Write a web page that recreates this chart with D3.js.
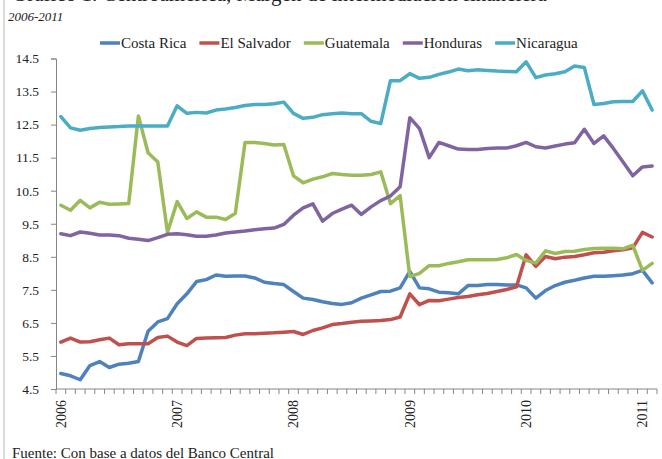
<!DOCTYPE html>
<html><head><meta charset="utf-8">
<script src="https://cdn.jsdelivr.net/npm/d3@7"></script>
<style>body{margin:0;background:#fff;} svg{display:block;}</style>
</head><body><svg id="c" width="662" height="459"></svg>
<script>
const years = ["2006","2007","2008","2009","2010","2011"];
const months = ["01","02","03","04","05","06","07","08","09","10","11","12"];
const seriesNames = ["Costa Rica","El Salvador","Guatemala","Honduras","Nicaragua"];
const seriesColors = ["#4F81BD","#C0504D","#9BBB59","#8064A2","#4BACC6"];
const yTicks = [4.5,5.5,6.5,7.5,8.5,9.5,10.5,11.5,12.5,13.5,14.5];
const titleText = "Gráfico 1. Centroamérica, Margen de intermediación financiera";
const subtitleText = "2006-2011";
const sourceText = "Fuente: Con base a datos del Banco Central";

const costaRica = [4.97,4.90,4.78,5.21,5.33,5.15,5.25,5.28,5.33,6.25,6.53,6.63,
  7.08,7.38,7.75,7.81,7.95,7.91,7.92,7.92,7.86,7.73,7.69,7.66,
  7.45,7.25,7.21,7.14,7.09,7.06,7.11,7.25,7.35,7.45,7.46,7.56,
  8.06,7.56,7.53,7.43,7.41,7.38,7.63,7.63,7.66,7.66,7.65,7.65,
  7.56,7.25,7.48,7.63,7.73,7.79,7.86,7.91,7.91,7.93,7.95,7.99,
  8.09,7.71];
const elSalvador = [5.92,6.04,5.92,5.93,5.99,6.04,5.84,5.87,5.87,5.87,6.06,6.10,
  5.92,5.81,6.03,6.04,6.05,6.06,6.13,6.17,6.17,6.19,6.20,6.22,
  6.24,6.15,6.27,6.35,6.45,6.48,6.52,6.55,6.56,6.57,6.60,6.68,
  7.38,7.05,7.18,7.17,7.22,7.27,7.30,7.35,7.39,7.45,7.51,7.59,
  8.56,8.21,8.51,8.44,8.49,8.51,8.56,8.62,8.64,8.68,8.71,8.77,
  9.24,9.10];
const guatemala = [10.06,9.91,10.21,9.98,10.15,10.09,10.10,10.11,12.76,11.65,11.37,9.24,
  10.17,9.66,9.86,9.70,9.70,9.63,9.82,11.96,11.96,11.93,11.88,11.90,
  10.95,10.74,10.85,10.92,11.02,10.99,10.97,10.97,10.99,11.07,10.11,10.35,
  7.90,8.00,8.23,8.23,8.30,8.35,8.41,8.41,8.41,8.42,8.47,8.57,
  8.39,8.31,8.68,8.60,8.66,8.67,8.72,8.75,8.76,8.76,8.74,8.85,
  8.09,8.30];
const honduras = [9.20,9.14,9.25,9.21,9.16,9.16,9.14,9.06,9.03,8.99,9.08,9.18,
  9.20,9.17,9.12,9.12,9.16,9.22,9.25,9.28,9.32,9.35,9.37,9.48,
  9.76,9.98,10.10,9.58,9.81,9.94,10.06,9.78,10.01,10.20,10.34,10.62,
  12.71,12.38,11.50,11.96,11.86,11.76,11.75,11.75,11.78,11.79,11.79,11.86,
  11.96,11.83,11.79,11.85,11.91,11.95,12.36,11.93,12.16,11.78,11.37,10.95,
  11.22,11.25];
const nicaragua = [12.74,12.40,12.33,12.38,12.41,12.43,12.44,12.46,12.46,12.46,12.46,12.46,
  13.07,12.84,12.87,12.85,12.94,12.97,13.02,13.08,13.11,13.11,13.13,13.18,
  12.84,12.69,12.72,12.80,12.83,12.85,12.83,12.83,12.60,12.53,13.83,13.83,
  14.04,13.90,13.93,14.02,14.09,14.18,14.13,14.16,14.14,14.12,14.11,14.10,
  14.40,13.92,14.00,14.04,14.10,14.27,14.23,13.11,13.14,13.19,13.20,13.20,
  13.52,12.94];

const seriesValues = [costaRica, elSalvador, guatemala, honduras, nicaragua];
const categories = [];
years.forEach(y => months.forEach(m => categories.push(y + "-" + m)));
categories.splice(costaRica.length);

const svg = d3.select("#c");
const serif = "'Liberation Serif','Times New Roman',serif";
const axisColor = "#868686";

// left border
svg.append("line").attr("x1",4).attr("x2",4).attr("y1",0).attr("y2",459)
  .attr("stroke","#d0d0d0").attr("stroke-width",1.5);

svg.append("text").attr("x",12).attr("y",1).attr("font-family",serif)
  .attr("font-size",21).attr("fill","#222").text(titleText);
svg.append("text").attr("x",8).attr("y",21).attr("font-family",serif)
  .attr("font-style","italic").attr("font-size",13).attr("fill","#222").text(subtitleText);

const x = d3.scaleBand().domain(categories).range([56, 657]).paddingInner(0).paddingOuter(0);
const y = d3.scaleLinear().domain([4.5, 14.5]).range([389, 58.5]);
const cx = d => x(d) + x.bandwidth()/2;

// y axis
const yAxis = svg.append("g").attr("transform","translate(56,0)")
  .call(d3.axisLeft(y).tickValues(yTicks).tickFormat(d3.format(".1f")).tickSize(5).tickPadding(12));
yAxis.select(".domain").attr("stroke",axisColor);
yAxis.selectAll(".tick line").attr("stroke",axisColor);
yAxis.selectAll("text").attr("font-family",serif).attr("font-size",13.5).attr("fill","#222");

// x axis
const xAxisG = svg.append("g").attr("transform","translate(0,389)");
xAxisG.append("line").attr("x1",56).attr("x2",657).attr("stroke",axisColor);
const bounds = categories.map(c => x(c)).concat([x(categories[categories.length-1]) + x.bandwidth()]);
xAxisG.selectAll("line.tk").data(bounds).join("line").attr("class","tk")
  .attr("x1",d=>d).attr("x2",d=>d).attr("y1",0).attr("y2",5).attr("stroke",axisColor);
const labelCats = categories.filter(c => c.endsWith("-01"));
xAxisG.selectAll("text.yl").data(labelCats).join("text").attr("class","yl")
  .attr("transform", d => `translate(${cx(d)+5},11) rotate(-90)`)
  .attr("text-anchor","end").attr("font-family",serif).attr("font-size",14).attr("fill","#222")
  .text(d => d.slice(0,4));

// lines
const line = d3.line().x((d,i) => cx(categories[i])).y(d => y(d));
svg.append("g").selectAll("path").data(seriesValues).join("path")
  .attr("d", d => line(d)).attr("fill","none")
  .attr("stroke", (d,i) => seriesColors[i]).attr("stroke-width",3.5)
  .attr("stroke-linejoin","round").attr("stroke-linecap","round");

// legend
const lg = svg.append("g").attr("transform","translate(0,43)");
let lx = 100;
seriesNames.forEach((n,i) => {
  lg.append("line").attr("x1",lx).attr("x2",lx+20).attr("y1",0).attr("y2",0)
    .attr("stroke",seriesColors[i]).attr("stroke-width",3.5);
  const t = lg.append("text").attr("x",lx+21).attr("y",5).attr("font-family",serif)
    .attr("font-size",15).attr("fill","#222").text(n);
  lx += 21 + t.node().getComputedTextLength() + 13;
});

svg.append("text").attr("x",12).attr("y",458).attr("font-family",serif)
  .attr("font-size",15).attr("fill","#222").text(sourceText);
</script></body></html>
